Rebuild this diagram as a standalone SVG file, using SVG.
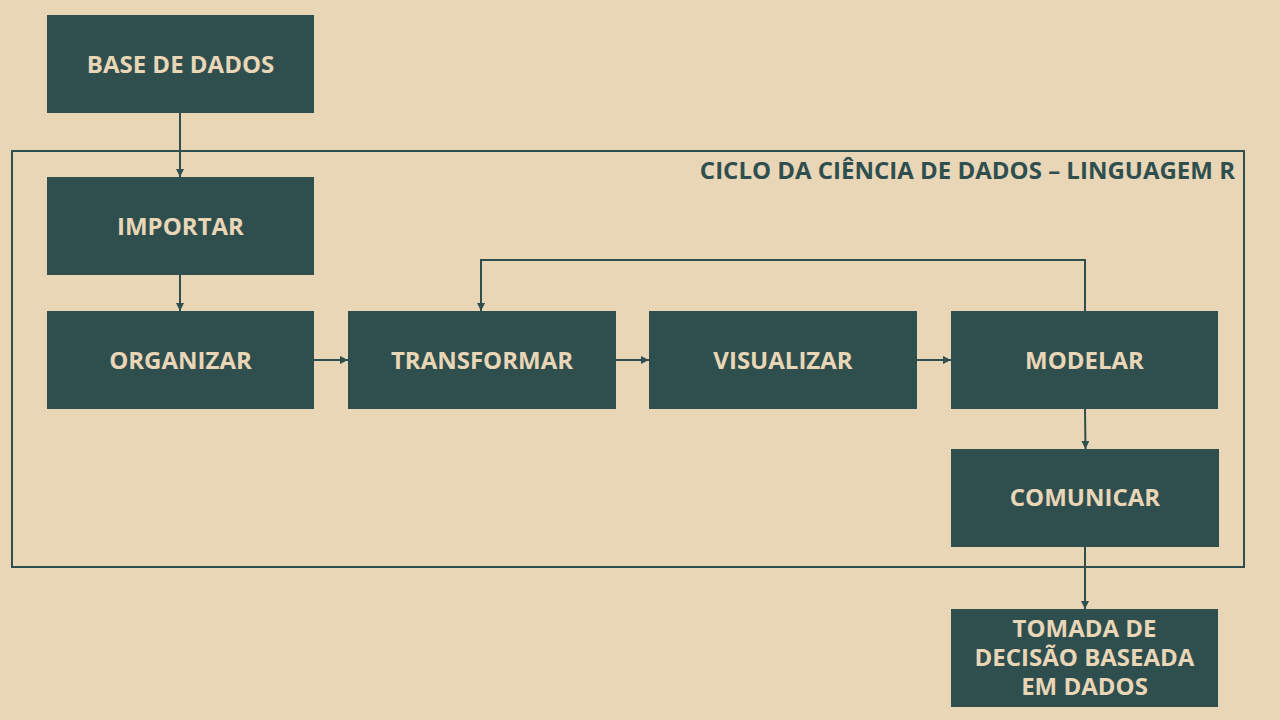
<svg xmlns="http://www.w3.org/2000/svg" width="1280" height="720" viewBox="0 0 1280 720">
<style>
.bg{fill:#E9D6B7}
.node rect{fill:#2F4F4F}
.node text{fill:#E9D6B7;font-family:"Open Sans","Noto Sans","DejaVu Sans",sans-serif;font-weight:bold;font-size:24px;text-anchor:middle;dominant-baseline:central}
.frame{fill:none;stroke:#2F4F4F;stroke-width:2}
.title{fill:#2F4F4F;font-family:"Open Sans","Noto Sans","DejaVu Sans",sans-serif;font-weight:bold;font-size:24px;text-anchor:end;dominant-baseline:central}
.conn{fill:none;stroke:#2F4F4F;stroke-width:2;marker-end:url(#arr)}
</style>
<defs>
<marker id="arr" viewBox="0 0 10 10" refX="10" refY="5" markerWidth="4" markerHeight="4" orient="auto" markerUnits="strokeWidth">
<path d="M0,0 L10,5 L0,10 z" fill="#2F4F4F"/>
</marker>
</defs>
<rect class="bg" x="0" y="0" width="1280" height="720"/>
<g id="frame">
<rect class="frame" x="12" y="151" width="1232" height="416"/>
<text class="title" x="1235" y="169">CICLO DA CIÊNCIA DE DADOS – LINGUAGEM R</text>
</g>
<g id="connectors">
<path class="conn" d="M180,113 V177"/>
<path class="conn" d="M180,275 V311"/>
<path class="conn" d="M314,360 H348"/>
<path class="conn" d="M616,360 H649"/>
<path class="conn" d="M917,360 H951"/>
<path class="conn" d="M1085,311 V260 H481 V311"/>
<path class="conn" d="M1085,409 L1085.5,449"/>
<path class="conn" d="M1085,547 V609"/>
</g>
<g id="base" class="node"><rect x="47" y="15" width="267" height="98"/><text x="180.5" y="63">BASE DE DADOS</text></g>
<g id="importar" class="node"><rect x="47" y="177" width="267" height="98"/><text x="180.5" y="225">IMPORTAR</text></g>
<g id="organizar" class="node"><rect x="47" y="311" width="267" height="98"/><text x="180.5" y="359">ORGANIZAR</text></g>
<g id="transformar" class="node"><rect x="348" y="311" width="268" height="98"/><text x="482" y="359">TRANSFORMAR</text></g>
<g id="visualizar" class="node"><rect x="649" y="311" width="268" height="98"/><text x="783" y="359">VISUALIZAR</text></g>
<g id="modelar" class="node"><rect x="951" y="311" width="267" height="98"/><text x="1084.5" y="359">MODELAR</text></g>
<g id="comunicar" class="node"><rect x="951" y="449" width="268" height="98"/><text x="1085" y="496">COMUNICAR</text></g>
<g id="tomada" class="node"><rect x="951" y="609" width="267" height="98"/><text x="1084.5" y="627"><tspan x="1084.5" y="627">TOMADA DE</tspan><tspan x="1084.5" y="656">DECISÃO BASEADA</tspan><tspan x="1084.5" y="685">EM DADOS</tspan></text></g>
</svg>
